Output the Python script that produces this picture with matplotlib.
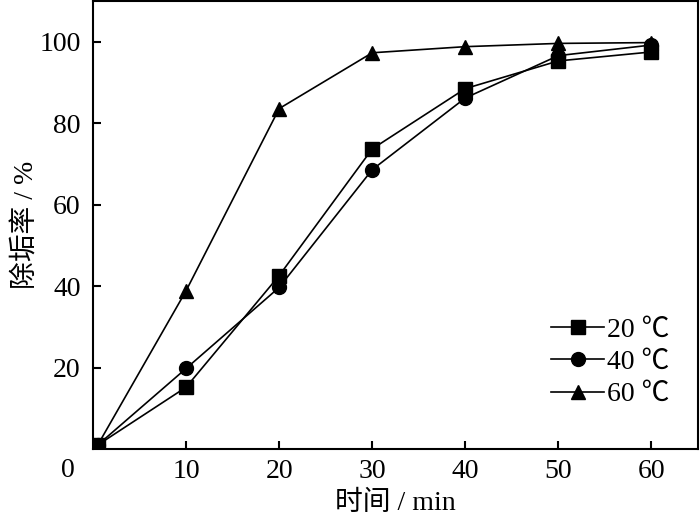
import matplotlib
matplotlib.use('Agg')
import matplotlib.pyplot as plt

plt.rcParams['font.family'] = ['Liberation Serif', 'Noto Sans CJK SC', 'DejaVu Sans']

# data
time_min = [0.5, 10, 20, 30, 40, 50, 60]
rate_20 = [1.0, 15.2, 42.6, 73.7, 88.5, 95.3, 97.5]
rate_40 = [1.0, 19.8, 39.7, 68.6, 86.2, 96.6, 99.2]
rate_60 = [1.0, 38.9, 83.6, 97.3, 98.8, 99.6, 99.8]
series_labels = ['20 ℃', '40 ℃', '60 ℃']

x_ticks = [10, 20, 30, 40, 50, 60]
y_ticks = [20, 40, 60, 80, 100]

fig = plt.figure(figsize=(7.0, 5.24), dpi=100)
ax = fig.add_axes([0.133, 0.143, 0.864, 0.855])

ax.plot(time_min, rate_20, color='black', lw=1.2, marker='s', ms=9.5, label=series_labels[0])
ax.plot(time_min, rate_40, color='black', lw=1.2, marker='o', ms=10, label=series_labels[1])
ax.plot(time_min, rate_60, color='black', lw=1.2, marker='^', ms=10, label=series_labels[2])

ax.set_xlim(0, 65)
ax.set_ylim(0, 110)
ax.set_xticks(x_ticks)
ax.set_yticks(y_ticks)
ax.tick_params(direction='in', length=6, width=1.5, labelsize=20, pad=9)
ax.tick_params(axis='x', pad=7)
for s in ax.spines.values():
    s.set_linewidth(1.5)

# origin label shared by both axes
ax.annotate('0', xy=(0, 0), xytext=(-25, -21), textcoords='offset pixels',
            ha='center', va='center', fontsize=20)

ax.set_xlabel('时间 / min', fontsize=20, labelpad=5)
ax.set_ylabel('除垢率 / %', fontsize=20, labelpad=0)

ax.legend(loc='lower right', bbox_to_anchor=(0.985, 0.05), frameon=False, fontsize=20,
          handlelength=1.9, handletextpad=0.1, labelspacing=0.25, borderaxespad=0.3)

fig.savefig('out.png', dpi=100)
